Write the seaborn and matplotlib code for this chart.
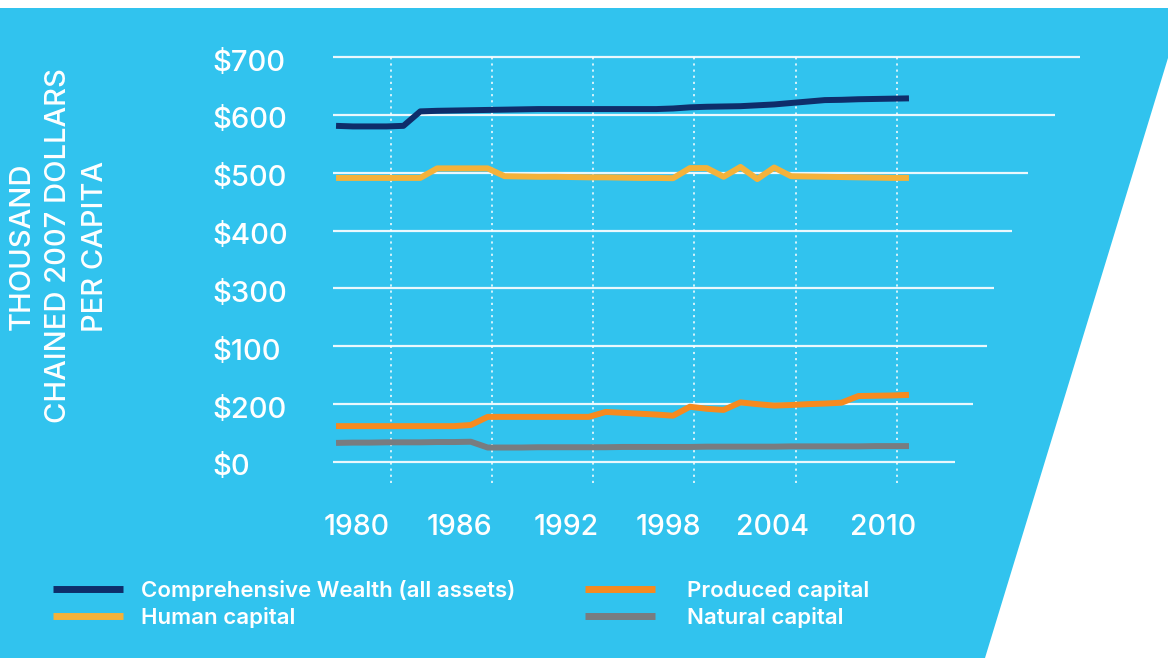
import matplotlib
matplotlib.use("Agg")
import matplotlib.pyplot as plt
import matplotlib.transforms as mtransforms
from matplotlib.patches import Polygon
import pandas as pd
import seaborn as sns

# data (thousand chained 2007 dollars per capita)
years = list(range(1978, 2013))
comprehensive = [581, 580, 580, 580, 581,
                 606, 607, 607.5, 608, 608.5, 609, 609.5,
                 610, 610, 610, 610, 610, 610, 610, 610,
                 611, 613, 614, 614.5, 615, 616.5, 618, 620.5, 623, 625.5,
                 626, 627, 627.5, 628, 628.5]
human = [491, 491, 491, 491, 491, 491,
         507.5, 507.5, 507.5, 507.5,
         494, 493.5, 493, 493, 492.5, 492, 492, 491.5, 491, 491, 490.5,
         508, 508, 493, 510, 489, 509, 494,
         493.5, 493, 492.5, 492, 491.5, 491, 491]
produced = [62, 62, 62, 62, 62, 62, 62, 62,
            64,
            78, 78, 78, 78, 78, 78, 78,
            86.5, 85, 83.5, 82, 80,
            95.5, 92, 90, 103, 100, 97.5, 98.5, 100, 101, 102.5,
            114, 114.5, 115, 116]
natural = [33,
           33.5, 33.5, 34, 34, 34, 34.5, 34.5, 35,
           25, 25, 25, 25.5, 25.5, 25.5, 25.5, 25.5, 26, 26, 26, 26, 26,
           26.5, 26.5, 26.5, 26.5, 26.5, 27, 27, 27, 27, 27, 27.5, 27.5, 27.5]

series_names = ["Comprehensive Wealth (all assets)", "Human capital",
                "Produced capital", "Natural capital"]
series_colors = ["#0E2D6A", "#F4B23A", "#F68A1F", "#787C80"]

y_ticks = [700, 600, 500, 400, 300, 200, 100, 0]
y_tick_labels = ["$700", "$600", "$500", "$400", "$300", "$100", "$200", "$0"]
x_tick_labels = ["1980", "1986", "1992", "1998", "2004", "2010"]

# layout (pixels of a 1168x658 canvas)
W, H = 1168, 658
BLUE = "#31C3EE"
x_label_pos = [1979.25, 1985.3, 1991.65, 1997.7, 2003.93, 2010.46]
v_grid = [1981.25, 1987.25, 1993.25, 1999.25, 2005.3, 2011.3]
grid_ends = [2022.15, 2020.67, 2019.07, 2018.12, 2017.05, 2016.63, 2015.8, 2014.74]
x_lo, x_hi = 1977.82, 2022.15
y_lo, y_hi = -36.3, 700


def fx(px):
    return px / W


def fy(py):
    return 1 - py / H


df = pd.DataFrame({
    "year": years * 4,
    "value": comprehensive + human + produced + natural,
    "series": sum([[n] * len(years) for n in series_names], []),
})

sns.set_style("white")
plt.rcParams["font.family"] = ["Inter", "DejaVu Sans"]

fig = plt.figure(figsize=(W / 100, H / 100), dpi=100, facecolor="white")
bg = Polygon([(fx(0), fy(8)), (fx(1168), fy(8)), (fx(1168), fy(58)),
              (fx(985), fy(658)), (fx(0), fy(658))],
             closed=True, transform=fig.transFigure, facecolor=BLUE,
             edgecolor="none", zorder=-5)
fig.patches.append(bg)

ax = fig.add_axes([fx(333), fy(483), fx(1080) - fx(333), fy(57) - fy(483)])
ax.set_zorder(2)
ax.set_facecolor("none")
ax.set_xlim(x_lo, x_hi)
ax.set_ylim(y_lo, y_hi)

ax.hlines(y_ticks, x_lo, grid_ends, colors="white", lw=1.6, alpha=0.9,
          zorder=1, clip_on=False)
ax.vlines(v_grid, y_lo, y_hi, colors="white", lw=1.3,
          linestyles=(0, (1.2, 2.2)), alpha=0.85, zorder=1)

sns.lineplot(data=df, x="year", y="value", hue="series",
             hue_order=series_names,
             palette=dict(zip(series_names, series_colors)),
             linewidth=4.3, solid_capstyle="butt", ax=ax, zorder=3)

for s in ax.spines.values():
    s.set_visible(False)
ax.set_xlabel("")
ax.set_ylabel("")

ax.set_yticks(y_ticks, y_tick_labels)
ax.set_xticks(x_label_pos, x_tick_labels)
ax.tick_params(axis="y", length=0, pad=(333 - 212) * 0.72, labelsize=21,
               labelcolor="white")
ax.tick_params(axis="x", length=0, pad=22, labelsize=20.5, labelcolor="white")
shift = mtransforms.ScaledTranslation(0, -3 / 100, fig.dpi_scale_trans)
for t in ax.get_yticklabels():
    t.set_ha("left")
    t.set_fontweight("medium")
    t.set_transform(t.get_transform() + shift)
for t in ax.get_xticklabels():
    t.set_fontweight("medium")

fig.text(fx(59), fy(246), "THOUSAND\nCHAINED 2007 DOLLARS\nPER CAPITA",
         rotation=90, ha="center", va="center", multialignment="center",
         fontsize=21, color="white", linespacing=1.45, fontweight="medium")

# legend: two columns, each its own box so the gaps match
handles, labels = ax.get_legend_handles_labels()
ax.get_legend().remove()
legs = []
for idx, left, pad in [([0, 1], 53, 0.8), ([2, 3], 585, 1.45)]:
    leg = fig.legend([handles[i] for i in idx], [labels[i] for i in idx],
                     loc="upper left", bbox_to_anchor=(fx(left), fy(580)),
                     frameon=False, fontsize=16, handlelength=3.15,
                     handletextpad=pad, labelspacing=0.25, borderpad=0,
                     borderaxespad=0)
    for t in leg.get_texts():
        t.set_color("white")
        t.set_fontweight("semibold")
    for h in leg.get_lines():
        h.set_linewidth(5)
        h.set_solid_capstyle("butt")
    legs.append(leg)

fig.savefig("out.png", dpi=100, facecolor="white")
